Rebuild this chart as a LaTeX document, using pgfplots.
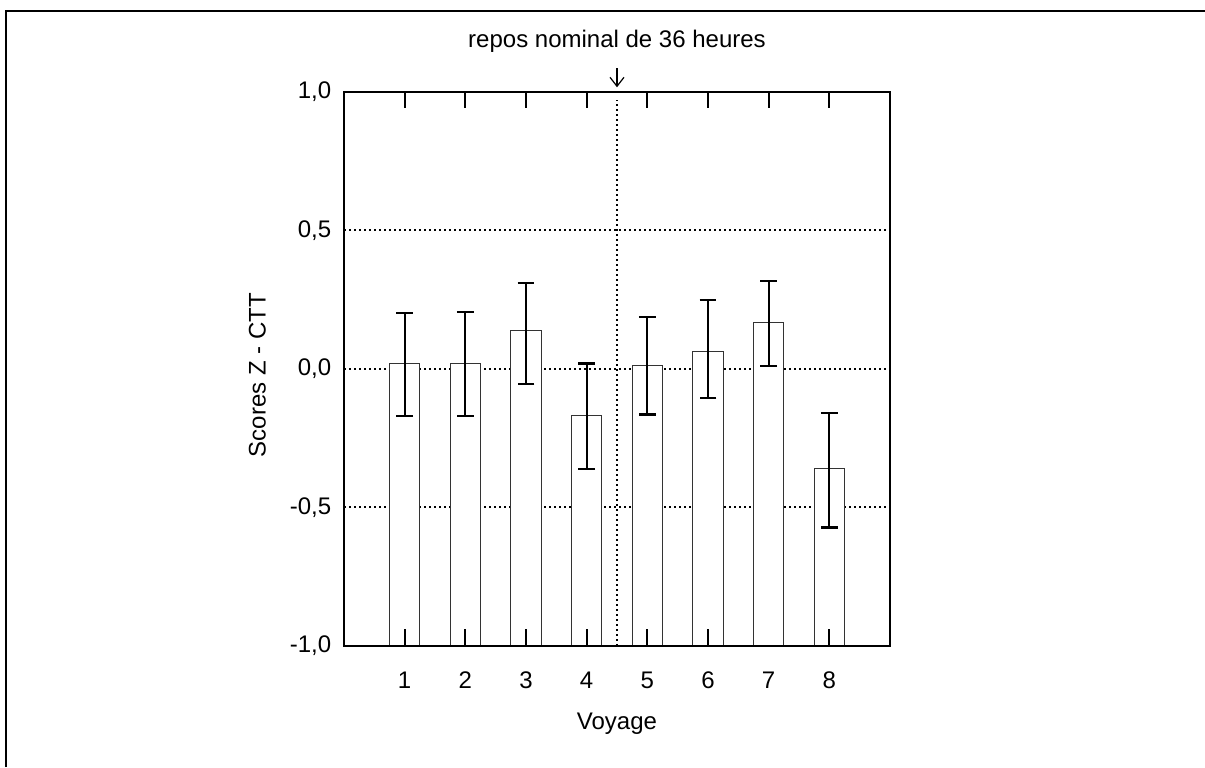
\documentclass[border=0pt]{standalone}
\usepackage{pgfplots}
\pgfplotsset{compat=1.18}
\usepackage{pgfplotstable}
\usepackage{fontspec}
\setmainfont{Liberation Sans}
\usetikzlibrary{arrows.meta}

\pgfplotstableread{
x y ep em
1 0.017 0.183 0.187
2 0.017 0.188 0.187
3 0.139 0.171 0.193
4 -0.170 0.189 0.192
5 0.011 0.176 0.176
6 0.063 0.184 0.169
7 0.166 0.151 0.156
8 -0.362 0.201 0.211
}\data

\begin{document}
\fontsize{12}{14.4}\selectfont
\begin{tikzpicture}
\useasboundingbox (0,0) rectangle (602.5pt,383.5pt);
\draw[line width=1pt] (3pt,0) -- (3pt,378pt) -- (602.5pt,378pt);
\begin{axis}[
  at={(172pt,60.65pt)}, anchor=south west,
  scale only axis, width=273pt, height=277pt,
  xmin=0, xmax=9, ymin=0, ymax=2,
  clip=false,
  axis on top,
  axis line style={line width=1pt},
  /pgf/number format/assume math mode=true,
  xtick={1,...,8},
  xtick pos=right, xticklabel pos=left,
  extra x ticks={1,2,3,4,5,6,8},
  extra x tick labels={},
  extra x tick style={xtick pos=left},
  tick align=inside,
  major tick length=8.3pt,
  xtick style={line width=1pt, black},
  xticklabel style={yshift=-9pt},
  ytick={0,0.5,1,1.5,2},
  yticklabels={{-1,0},{-0,5},{0,0},{0,5},{1,0}},
  ytick style={draw=none},
  yticklabel style={xshift=-2.2pt},
  xlabel={Voyage},
  xlabel style={at={(axis description cs:0.5,-0.152)}, anchor=base},
  ylabel={Scores Z - CTT},
  ylabel style={at={(axis description cs:-0.1586,0.4886)}, anchor=center},
]
\draw[line width=1.1pt, dash pattern=on 1.1pt off 1.4pt] (axis cs:0,0.5) -- (axis cs:9,0.5);
\draw[line width=1.1pt, dash pattern=on 1.1pt off 1.4pt] (axis cs:0,1) -- (axis cs:9,1);
\draw[line width=1.1pt, dash pattern=on 1.1pt off 1.4pt] (axis cs:0,1.5) -- (axis cs:9,1.5);
\draw[line width=1.1pt, dash pattern=on 1.1pt off 1.4pt] (axis cs:4.5,0) -- (axis cs:4.5,1.97);
\addplot[ybar, bar width=15.15pt, fill=white, draw=black!80, line width=0.5pt,
  y filter/.expression={y+1},
  error bars/.cd, y dir=both, y explicit,
  error bar style={line width=1.1pt, black},
  error mark options={rotate=90, mark size=4.2pt, line width=1.1pt, black}]
  table[x=x, y=y, y error plus=ep, y error minus=em] {\data};
\node[anchor=base] at (axis description cs:0.5,1.079) {repos nominal de 36 heures};
\draw[line width=0.6pt, -{Straight Barb[length=4.5pt,width=7pt]}] (axis description cs:0.5,1.042) -- (axis description cs:0.5,1.008);
\end{axis}
\end{tikzpicture}
\end{document}
